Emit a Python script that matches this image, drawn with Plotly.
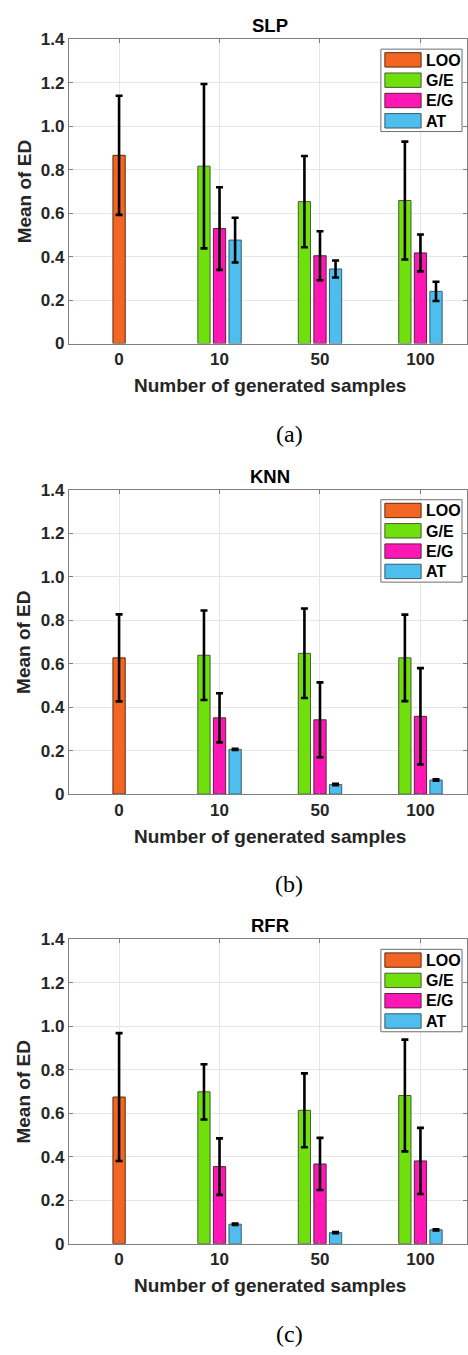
import plotly.graph_objects as go

# ---------------- data ----------------
categories = ["0", "10", "50", "100"]
series_names = ["LOO", "G/E", "E/G", "AT"]
panel_titles = ["SLP", "KNN", "RFR"]
captions = ["(a)", "(b)", "(c)"]
y_tick_vals = [0, 0.2, 0.4, 0.6, 0.8, 1.0, 1.2, 1.4]
y_tick_text = ["0", "0.2", "0.4", "0.6", "0.8", "1.0", "1.2", "1.4"]

# LOO only exists at 0 generated samples; the others at 10, 50, 100
slp_loo_mean, slp_loo_err = [0.866], [0.274]
slp_ge_mean, slp_ge_err = [0.816, 0.653, 0.658], [0.378, 0.210, 0.271]
slp_eg_mean, slp_eg_err = [0.529, 0.404, 0.417], [0.190, 0.113, 0.085]
slp_at_mean, slp_at_err = [0.476, 0.343, 0.240], [0.103, 0.039, 0.044]

knn_loo_mean, knn_loo_err = [0.627], [0.200]
knn_ge_mean, knn_ge_err = [0.639, 0.648, 0.627], [0.206, 0.206, 0.199]
knn_eg_mean, knn_eg_err = [0.351, 0.342, 0.358], [0.113, 0.172, 0.222]
knn_at_mean, knn_at_err = [0.206, 0.044, 0.065], [0.003, 0.003, 0.003]

rfr_loo_mean, rfr_loo_err = [0.675], [0.294]
rfr_ge_mean, rfr_ge_err = [0.699, 0.614, 0.682], [0.127, 0.170, 0.257]
rfr_eg_mean, rfr_eg_err = [0.355, 0.367, 0.381], [0.130, 0.120, 0.152]
rfr_at_mean, rfr_at_err = [0.090, 0.051, 0.064], [0.003, 0.003, 0.003]

panels = [
    [(slp_loo_mean, slp_loo_err), (slp_ge_mean, slp_ge_err), (slp_eg_mean, slp_eg_err), (slp_at_mean, slp_at_err)],
    [(knn_loo_mean, knn_loo_err), (knn_ge_mean, knn_ge_err), (knn_eg_mean, knn_eg_err), (knn_at_mean, knn_at_err)],
    [(rfr_loo_mean, rfr_loo_err), (rfr_ge_mean, rfr_ge_err), (rfr_eg_mean, rfr_eg_err), (rfr_at_mean, rfr_at_err)],
]

# ---------------- style ----------------
W, H = 468, 1355
colors = ["#F36523", "#70E00C", "#FF17B6", "#4DBEEE"]
edge_colors = ["#5a2a10", "#4a5a3a", "#5a2040", "#3a5a6a"]
series_idx = [[0], [1, 2, 3], [1, 2, 3], [1, 2, 3]]
series_off = [0.0, -0.155, 0.0, 0.155]
bar_w = 0.122
plot_left, plot_right = 69, 468
panel_tops = [30.7, 487.7, 943.7]
plot_h = 308.6
x_lo = -0.5
x_hi = x_lo + (plot_right - plot_left) / 100.67
FONT = "Liberation Sans, Arial, sans-serif"
TXT = "#262626"


def px(x):
    return x / W


def py(y):
    return 1 - y / H


fig = go.Figure()
annotations = []
shapes = []
layout = {}

for p, series in enumerate(panels):
    top = panel_tops[p]
    bottom = top + plot_h
    ax = "" if p == 0 else str(p + 1)
    for s, (means, errs) in enumerate(series):
        xs = [i + series_off[s] for i in series_idx[s]]
        fig.add_trace(go.Bar(
            x=xs, y=means, width=bar_w, name=series_names[s],
            marker=dict(color=colors[s], line=dict(color=edge_colors[s], width=1)),
            error_y=dict(type="data", array=errs, color="black", thickness=2.6, width=3.5),
            xaxis="x" + ax, yaxis="y" + ax, showlegend=False,
        ))
    common = dict(
        showline=True, linecolor="#7f7f7f", linewidth=1, mirror="ticks",
        ticks="inside", ticklen=4, tickcolor="#7f7f7f",
        showgrid=True, gridcolor="#e6e6e6", gridwidth=1, zeroline=False,
        tickfont=dict(family=FONT, size=17, color=TXT, weight="bold"),
    )
    layout["xaxis" + ax] = dict(
        common, domain=[px(plot_left), 1], range=[x_lo, x_hi],
        tickmode="array", tickvals=list(range(len(categories))), ticktext=categories,
        anchor="y" + ax, fixedrange=True,
    )
    layout["yaxis" + ax] = dict(
        common, domain=[py(bottom), py(top)], range=[0, 1.4],
        tickmode="array", tickvals=y_tick_vals, ticktext=y_tick_text,
        anchor="x" + ax, fixedrange=True,
    )
    cx = 270.8
    annotations += [
        dict(text=panel_titles[p], x=px(cx), y=py(top - 13.7), xref="paper", yref="paper",
             showarrow=False, xanchor="center", yanchor="middle",
             font=dict(family=FONT, size=18.5, color="black", weight="bold")),
        dict(text="Number of generated samples", x=px(cx), y=py(top + 351.3), xref="paper", yref="paper",
             showarrow=False, xanchor="center", yanchor="middle",
             font=dict(family=FONT, size=19, color=TXT, weight="bold")),
        dict(text="Mean of ED", x=px(24), y=py(top + plot_h / 2), xref="paper", yref="paper",
             showarrow=False, xanchor="center", yanchor="middle", textangle=-90,
             font=dict(family=FONT, size=19, color=TXT, weight="bold")),
        dict(text=captions[p], x=px(290), y=py(top + 400), xref="paper", yref="paper",
             showarrow=False, xanchor="center", yanchor="middle",
             font=dict(family="Liberation Serif, Times New Roman, serif", size=24, color="black")),
    ]
    # legend box (drawn)
    lt = top + 10
    shapes.append(dict(type="rect", xref="paper", yref="paper",
                       x0=px(381.7), x1=px(463), y0=py(lt + 83.6), y1=py(lt),
                       fillcolor="white", line=dict(color="#6e6e6e", width=1), layer="above"))
    for s in range(len(series_names)):
        r0 = lt + 3.6 + 20.6 * s
        shapes.append(dict(type="rect", xref="paper", yref="paper",
                           x0=px(385.7), x1=px(422), y0=py(r0 + 14.6), y1=py(r0),
                           fillcolor=colors[s], line=dict(color=edge_colors[s], width=1), layer="above"))
        annotations.append(dict(text=series_names[s], x=px(425), y=py(r0 + 7.6), xref="paper", yref="paper",
                                showarrow=False, xanchor="left", yanchor="middle",
                                font=dict(family=FONT, size=16, color="black", weight="bold")))

fig.update_layout(
    width=W, height=H, margin=dict(l=0, r=0, t=0, b=0),
    paper_bgcolor="white", plot_bgcolor="white",
    barmode="overlay", annotations=annotations, shapes=shapes,
    **layout,
)
fig.write_html("out.html")
